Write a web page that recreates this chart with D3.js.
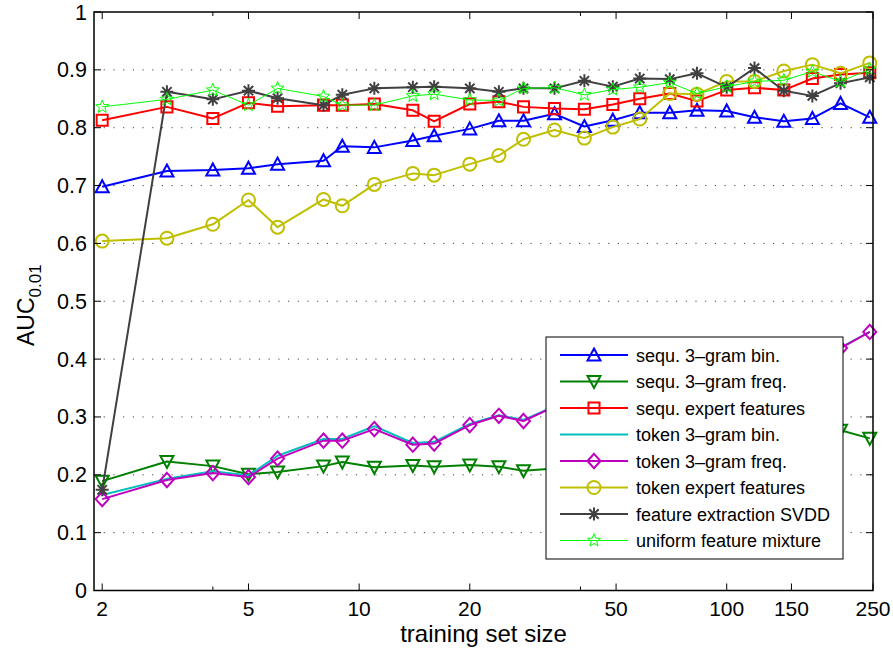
<!DOCTYPE html>
<html>
<head>
<meta charset="utf-8">
<script src="https://cdn.jsdelivr.net/npm/d3@7"></script>
<style>
  html, body { margin: 0; padding: 0; background: #fff; }
  text { font-family: "Liberation Sans", Arial, Helvetica, sans-serif; }
</style>
</head>
<body>
<svg id="chart" width="893" height="653"></svg>
<script>
// ---------------- data ----------------
const trainingSizes = [2,3,4,5,6,8,9,11,14,16,20,24,28,34,41,49,58,70,83,100,119,143,171,204,245];

const seqBin    = [0.698,0.725,0.727,0.730,0.737,0.743,0.768,0.766,0.778,0.786,0.798,0.812,0.812,0.824,0.802,0.813,0.826,0.826,0.830,0.829,0.818,0.811,0.816,0.842,0.818];
const seqFreq   = [0.189,0.223,0.215,0.201,0.205,0.215,0.222,0.213,0.216,0.214,0.217,0.214,0.207,0.211,0.212,0.215,0.220,0.226,0.234,0.241,0.250,0.256,0.265,0.277,0.263];
const seqExpert = [0.813,0.836,0.816,0.843,0.837,0.839,0.839,0.841,0.830,0.811,0.841,0.845,0.836,0.833,0.832,0.840,0.850,0.859,0.846,0.865,0.869,0.865,0.885,0.892,0.895];
const tokBin    = [0.165,0.193,0.206,0.199,0.233,0.262,0.262,0.284,0.255,0.257,0.288,0.303,0.295,0.318,0.329,0.340,0.350,0.360,0.370,0.380,0.390,0.400,0.410,0.420,0.447];
const tokFreq   = [0.158,0.191,0.203,0.196,0.228,0.259,0.259,0.279,0.252,0.254,0.286,0.302,0.293,0.318,0.329,0.340,0.350,0.360,0.370,0.380,0.390,0.400,0.410,0.419,0.447];
const tokExpert = [0.604,0.609,0.633,0.675,0.628,0.676,0.665,0.702,0.721,0.718,0.737,0.752,0.780,0.796,0.782,0.801,0.815,0.859,0.858,0.880,0.880,0.898,0.909,0.894,0.912];
const svdd      = [0.174,0.862,0.849,0.864,0.851,0.839,0.857,0.868,0.870,0.871,0.868,0.862,0.868,0.868,0.881,0.871,0.885,0.884,0.894,0.870,0.903,0.864,0.855,0.877,0.887];
const mixture   = [0.836,0.849,0.865,0.839,0.868,0.854,0.839,0.839,0.855,0.858,0.848,0.847,0.868,0.869,0.857,0.866,0.870,0.878,0.859,0.871,0.880,0.882,0.897,0.880,0.901];

const seriesNames  = ["sequ. 3\u2013gram bin.","sequ. 3\u2013gram freq.","sequ. expert features","token 3\u2013gram bin.","token 3\u2013gram freq.","token expert features","feature extraction SVDD","uniform feature mixture"];
const seriesValues = [seqBin, seqFreq, seqExpert, tokBin, tokFreq, tokExpert, svdd, mixture];
const seriesColors = ["#0000ff","#008000","#ff0000","#00bfbf","#bf00bf","#bfbf00","#404040","#00ff00"];
const seriesMarkers= ["triUp","triDown","square","none","diamond","circle","asterisk","star"];
const seriesWidths = [2,2,2,2,2,2,2,1];

const xTicks = [2,5,10,20,50,100,150,250];
const xMinorTicks = [4,40];
const yTicks = [0,0.1,0.2,0.3,0.4,0.5,0.6,0.7,0.8,0.9,1];

// ---------------- layout ----------------
const svg = d3.select("#chart");
const L = 94, R = 873, T = 12, B = 590.5;
const x = d3.scaleLog().domain([1.9, 250]).range([L, R]);
const y = d3.scaleLinear().domain([0, 1]).range([B, T]);

svg.append("rect").attr("x",0).attr("y",0).attr("width",893).attr("height",653).attr("fill","#fff");

// grid
svg.append("g").selectAll("line").data(yTicks.filter(d => d > 0 && d < 1)).join("line")
  .attr("x1", L).attr("x2", R)
  .attr("y1", d => y(d)).attr("y2", d => y(d))
  .attr("stroke", "#444").attr("stroke-width", 1)
  .attr("stroke-dasharray", "1.2,8.5");

// marker paths
function markerPath(type, r) {
  switch (type) {
    case "triUp":   return `M0,${-r}L${r},${r*0.85}L${-r},${r*0.85}Z`;
    case "triDown": return `M0,${r}L${r},${-r*0.85}L${-r},${-r*0.85}Z`;
    case "square":  { const s = r*0.85; return `M${-s},${-s}H${s}V${s}H${-s}Z`; }
    case "diamond": return `M0,${-r*1.1}L${r},0L0,${r*1.1}L${-r},0Z`;
    case "circle":  return `M${r},0A${r},${r} 0 1,1 ${-r},0A${r},${r} 0 1,1 ${r},0Z`;
    case "asterisk":{ const d = r*0.72; return `M${-r},0H${r}M0,${-r}V${r}M${-d},${-d}L${d},${d}M${-d},${d}L${d},${-d}`; }
    case "star": {
      let p = "";
      for (let i = 0; i < 10; i++) {
        const a = -Math.PI/2 + i*Math.PI/5;
        const rr = (i % 2 === 0) ? r*1.05 : r*0.45;
        p += (i === 0 ? "M" : "L") + (rr*Math.cos(a)).toFixed(2) + "," + (rr*Math.sin(a)).toFixed(2);
      }
      return p + "Z";
    }
  }
  return "";
}

const line = d3.line().x(d => x(d[0])).y(d => y(d[1]));

const plot = svg.append("g");
seriesValues.forEach((vals, i) => {
  const pts = trainingSizes.map((t, k) => [t, vals[k]]);
  const g = plot.append("g");
  g.append("path").datum(pts).attr("d", line)
    .attr("fill", "none").attr("stroke", seriesColors[i])
    .attr("stroke-width", seriesWidths[i]).attr("stroke-linejoin", "round");
  if (seriesMarkers[i] !== "none") {
    g.selectAll("path.m").data(pts).join("path").attr("class","m")
      .attr("transform", d => `translate(${x(d[0])},${y(d[1])})`)
      .attr("d", markerPath(seriesMarkers[i], 6.5))
      .attr("fill", "none").attr("stroke", seriesColors[i])
      .attr("stroke-width", seriesMarkers[i] === "star" ? 1 : 2);
  }
});

// axes box
svg.append("rect").attr("x", L).attr("y", T).attr("width", R - L).attr("height", B - T)
  .attr("fill", "none").attr("stroke", "#000").attr("stroke-width", 1.5);

// y ticks (left & right, inward)
const ax = svg.append("g");
yTicks.forEach(v => {
  ax.append("line").attr("x1", L).attr("x2", L + 7).attr("y1", y(v)).attr("y2", y(v)).attr("stroke","#000");
  ax.append("line").attr("x1", R).attr("x2", R - 7).attr("y1", y(v)).attr("y2", y(v)).attr("stroke","#000");
});
ax.selectAll("text.yt").data(yTicks).join("text").attr("class","yt")
  .attr("x", L - 7).attr("y", d => y(d) + 7.5)
  .attr("text-anchor", "end").attr("font-size", 21.5).text(d => d3.format("~g")(d));

// x ticks
xTicks.forEach(v => {
  ax.append("line").attr("x1", x(v)).attr("x2", x(v)).attr("y1", B).attr("y2", B - 7).attr("stroke","#000");
  ax.append("line").attr("x1", x(v)).attr("x2", x(v)).attr("y1", T).attr("y2", T + 7).attr("stroke","#000");
});
xMinorTicks.forEach(v => {
  ax.append("line").attr("x1", x(v)).attr("x2", x(v)).attr("y1", B).attr("y2", B - 4).attr("stroke","#000");
  ax.append("line").attr("x1", x(v)).attr("x2", x(v)).attr("y1", T).attr("y2", T + 4).attr("stroke","#000");
});
ax.selectAll("text.xt").data(xTicks).join("text").attr("class","xt")
  .attr("x", d => x(d)).attr("y", B + 25)
  .attr("text-anchor", "middle").attr("font-size", 21).text(d => d);

// axis labels
svg.append("text").attr("x", (L + R) / 2).attr("y", 642)
  .attr("text-anchor", "middle").attr("font-size", 24).text("training set size");
const yl = svg.append("text").attr("transform", `translate(34,346) rotate(-90)`)
  .attr("text-anchor", "start").attr("font-size", 23);
yl.append("tspan").text("AUC");
yl.append("tspan").attr("font-size", 17).attr("dy", 7).text("0.01");

// legend
const lg = svg.append("g");
const LX = 546, LY = 337, LW = 297, LH = 222;
lg.append("rect").attr("x", LX).attr("y", LY).attr("width", LW).attr("height", LH)
  .attr("fill", "#fff").attr("stroke", "#000").attr("stroke-width", 1);
seriesNames.forEach((name, i) => {
  const yy = LY + 18 + i * 26.5;
  lg.append("line").attr("x1", LX + 14).attr("x2", LX + 82).attr("y1", yy).attr("y2", yy)
    .attr("stroke", seriesColors[i]).attr("stroke-width", seriesWidths[i]);
  if (seriesMarkers[i] !== "none") {
    lg.append("path").attr("transform", `translate(${LX + 48},${yy})`)
      .attr("d", markerPath(seriesMarkers[i], 6.5))
      .attr("fill", "none").attr("stroke", seriesColors[i])
      .attr("stroke-width", seriesMarkers[i] === "star" ? 1 : 2);
  }
  lg.append("text").attr("x", LX + 90).attr("y", yy + 6.5)
    .attr("font-size", 18).text(name);
});
</script>
</body>
</html>
